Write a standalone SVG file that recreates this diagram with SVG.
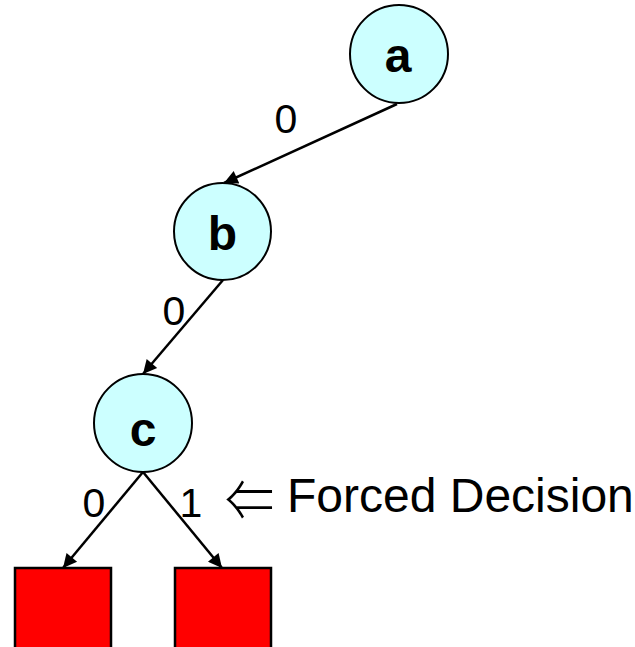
<svg xmlns="http://www.w3.org/2000/svg" width="635" height="647" viewBox="0 0 635 647">
<defs>
<marker id="ah" viewBox="0 0 10 10" refX="10" refY="5" markerWidth="7" markerHeight="5.5" markerUnits="strokeWidth" orient="auto">
<path d="M0,0 L10,5 L0,10 z" fill="#000"/>
</marker>
<style>
.node{fill:#CCFFFF;stroke:#000;stroke-width:2}
.leaf{fill:#FF0000;stroke:#000;stroke-width:2.5}
.nl{font-family:"Liberation Sans",Arial,sans-serif;font-weight:bold;font-size:48px;text-anchor:middle}
.el{font-family:"Liberation Sans",Arial,sans-serif;font-size:41px;text-anchor:middle}
.edge{stroke:#000;stroke-width:2.5;fill:none;marker-end:url(#ah)}
</style>
</defs>
<rect width="635" height="647" fill="#fff"/>
<g id="connectors">
<line class="edge" x1="397" y1="104" x2="224" y2="183"/>
<line class="edge" x1="223" y1="280" x2="143" y2="374"/>
<line class="edge" x1="143" y1="472" x2="63" y2="568"/>
<line class="edge" x1="143" y1="472" x2="222" y2="568"/>
<text class="el" x="286" y="133">0</text>
<text class="el" x="174" y="325">0</text>
<text class="el" x="94" y="517">0</text>
<text class="el" x="191" y="517">1</text>
</g>
<g id="node-a">
<circle class="node" cx="399" cy="54" r="49"/>
<text class="nl" x="398" y="72">a</text>
</g>
<g id="node-b">
<circle class="node" cx="222.5" cy="231.5" r="48.5"/>
<text class="nl" x="222.5" y="250">b</text>
</g>
<g id="node-c">
<circle class="node" cx="143" cy="423" r="49"/>
<text class="nl" x="143" y="446">c</text>
</g>
<g id="leaf-0">
<rect class="leaf" x="15" y="568" width="96" height="96"/>
</g>
<g id="leaf-1">
<rect class="leaf" x="175" y="568" width="96" height="96"/>
</g>
<g id="note">
<text x="225" y="521" font-family="Noto Sans CJK JP,sans-serif" font-weight="300" font-size="58px" textLength="49" lengthAdjust="spacingAndGlyphs">⇐</text>
<text x="287" y="512" font-family="Liberation Sans,Arial,sans-serif" font-size="48px">Forced Decision</text>
</g>
</svg>
